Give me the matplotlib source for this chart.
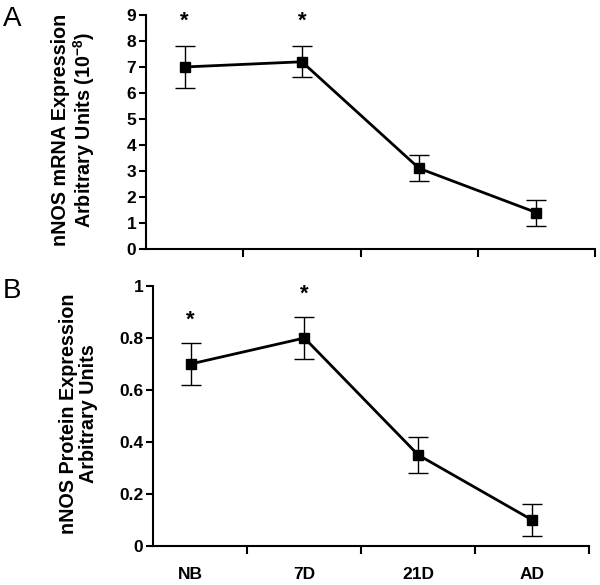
import matplotlib
matplotlib.use('Agg')
import matplotlib.pyplot as plt
from matplotlib.ticker import FixedLocator

plt.rcParams['font.family'] = ['Liberation Sans', 'DejaVu Sans']
plt.rcParams['font.weight'] = 'bold'
plt.rcParams['mathtext.fontset'] = 'custom'
plt.rcParams['mathtext.bf'] = 'Liberation Sans:bold'
plt.rcParams['mathtext.rm'] = 'Liberation Sans:bold'

groups = ['NB', '7D', '21D', 'AD']
mrna = [7.0, 7.2, 3.1, 1.4]
mrna_err = [0.8, 0.6, 0.5, 0.5]
mrna_sig = [True, True, False, False]
protein = [0.70, 0.80, 0.35, 0.10]
protein_err = [0.08, 0.08, 0.07, 0.06]
protein_sig = [True, True, False, False]

fig = plt.figure(figsize=(6, 5.85), dpi=100)
axA = fig.add_axes([0.2433, 0.5744, 0.7484, 0.4])
axB = fig.add_axes([0.255, 0.0667, 0.7267, 0.4444])

x = list(range(len(groups)))


def draw_panel(ax, vals, errs, sig, ymax, yticks, ylabels, label, star_off, show_x):
    ax.errorbar(x, vals, yerr=errs, color='black', linewidth=2, marker='s',
                markersize=6.5, ecolor='black', elinewidth=1, capsize=7, capthick=1)
    for xi, v, e, s in zip(x, vals, errs, sig):
        if s:
            ax.text(xi, v + e + star_off, '*', ha='center', va='center', fontsize=16)
    ax.set_xlim(-0.33, 3.5)
    ax.set_ylim(0, ymax)
    ax.set_yticks(yticks)
    ax.set_yticklabels(ylabels, fontsize=12.5, fontweight='bold')
    ax.xaxis.set_major_locator(FixedLocator(x))
    ax.xaxis.set_minor_locator(FixedLocator([0.5, 1.5, 2.5, 3.5]))
    if show_x:
        ax.set_xticklabels(groups, fontsize=12.5, fontweight='bold')
    else:
        ax.set_xticklabels([])
    ax.tick_params(axis='x', which='major', length=0, pad=15)
    ax.tick_params(axis='x', which='minor', length=6, width=1.5, direction='out')
    ax.tick_params(axis='y', length=5, width=1.5, direction='out', pad=2)
    for sp in ['top', 'right']:
        ax.spines[sp].set_visible(False)
    for sp in ['left', 'bottom']:
        ax.spines[sp].set_linewidth(1.5)
    ax.set_ylabel(label, fontsize=14.2, fontweight='bold', linespacing=1.05)


draw_panel(axA, mrna, mrna_err, mrna_sig, 9, range(10), [str(i) for i in range(10)],
           'nNOS mRNA Expression\nArbitrary Units (10$^{\\mathbf{-8}}$)', 0.95, False)
draw_panel(axB, protein, protein_err, protein_sig, 1, [0, 0.2, 0.4, 0.6, 0.8, 1],
           ['0', '0.2', '0.4', '0.6', '0.8', '1'],
           'nNOS Protein Expression\nArbitrary Units', 0.09, True)
axA.yaxis.set_label_coords(-0.109, 0.51)
axB.yaxis.set_label_coords(-0.126, 0.51)

fig.text(0.005, 0.99, 'A', fontsize=20, fontweight='normal', va='top')
fig.text(0.005, 0.525, 'B', fontsize=20, fontweight='normal', va='top')

fig.savefig('out.png', dpi=100)
